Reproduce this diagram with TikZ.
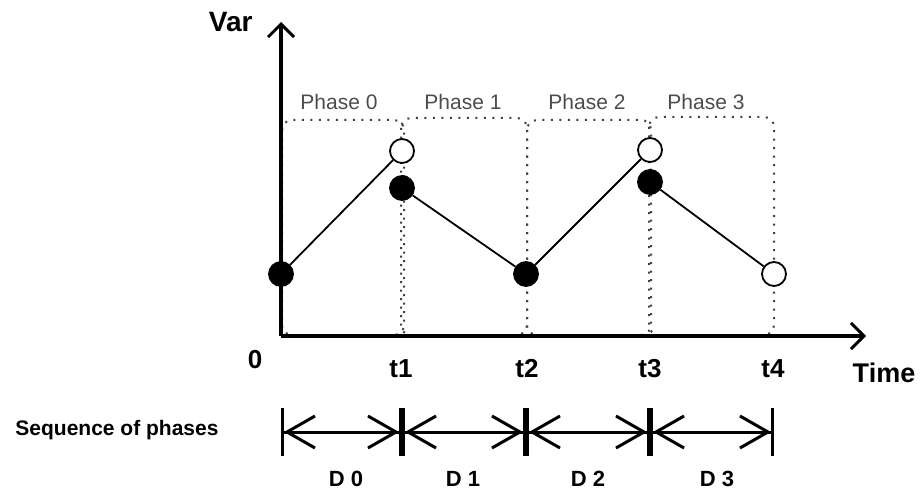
\documentclass[tikz,border=0pt]{standalone}
\usepackage{fontspec}
\setmainfont{Liberation Sans}
\usetikzlibrary{arrows.meta, positioning}

\begin{document}
\begin{tikzpicture}[x=1pt,y=1pt]
	\tikzstyle{axis}=[line width=3.4pt,-{Straight Barb[length=13pt,width=26pt,line width=3pt]}]
	\tikzstyle{hollow}=[circle,draw,line width=1.8pt,fill=white,minimum size=24pt,inner sep=0pt]
	\tikzstyle{filled}=[hollow,fill=black]
	\tikzstyle{phase}=[draw=black!75,line width=2pt,dash pattern=on 2pt off 6.5pt,rounded corners=10pt]
	\tikzstyle{big}=[font=\fontsize{26}{30}\selectfont\bfseries,anchor=base]
	\tikzstyle{small}=[font=\fontsize{21}{25}\selectfont,text=black!70,anchor=base]
	\tikzstyle{span}=[line width=3pt,{Bar[width=48pt,sep=0pt]Straight Barb[length=28pt,width=32pt,line width=3pt]}-{Straight Barb[length=28pt,width=32pt,line width=3pt]Bar[width=48pt,sep=0pt]}]

	\useasboundingbox (0,-492) rectangle (923,0);

	% axes and the instants on the time axis
	\coordinate (o) at (281,-336);
	\coordinate (top) at (281,-22);
	\coordinate (end) at (866,-336);
	\coordinate (t1) at (402,-336);
	\coordinate (t2) at (526,-336);
	\coordinate (t3) at (650,-336);
	\coordinate (t4) at (774,-336);

	% phases (dotted boxes)
	\draw[phase] (282,-120) rectangle (404,-335);
	\draw[phase] (401,-118) rectangle (527,-335);
	\draw[phase] (527,-120) rectangle (651,-335);
	\draw[phase] (649,-117) rectangle (774,-335);

	\node[small] (ph0) at (339,-110) {Phase 0};
	\node[small] (ph1) at (463,-110) {Phase 1};
	\node[small] (ph2) at (587,-110) {Phase 2};
	\node[small] (ph3) at (706,-110) {Phase 3};

	\draw[axis] (o) -- (top);
	\draw[axis] (o) -- (end);

	\node[big,anchor=base east,font=\fontsize{28}{32}\selectfont\bfseries] (var) at (256,-32) {Var};
	\node[big,font=\fontsize{27}{32}\selectfont\bfseries] (time) at (884,-382) {Time};
	\node[big] (l0) at (255,-368) {0};
	\node[big] (l1) at (401,-377) {t1};
	\node[big] (l2) at (527,-377) {t2};
	\node[big] (l3) at (650,-377) {t3};
	\node[big] (l4) at (773,-377) {t4};

	% the variable
	\node[filled] (p0) at (281,-274) {};
	\node[hollow] (p1o) at (402,-151) {};
	\node[filled] (p1) at (402,-188) {};
	\node[filled] (p2) at (526,-274) {};
	\node[hollow] (p3o) at (650,-150) {};
	\node[filled] (p3) at (650,-182) {};
	\node[hollow] (p4) at (774,-274) {};

	\draw[line width=1.8pt] (p0) -- (p1o);
	\draw[line width=1.8pt] (p1) -- (p2) -- (p3o);
	\draw[line width=1.8pt] (p3) -- (p4);

	% sequence of phases
	\coordinate (s0) at (281,-432);
	\coordinate (s1) at (402,-432);
	\coordinate (s2) at (526,-432);
	\coordinate (s3) at (650,-432);
	\coordinate (s4) at (774,-432);

	\node[anchor=base,font=\fontsize{21}{25}\selectfont\bfseries] (seq) at (117,-435) {Sequence of phases};

	\draw[span] (s0) -- (s1);
	\draw[span] (s1) -- (s2);
	\draw[span] (s2) -- (s3);
	\draw[span] (s3) -- (s4);

	\node[big,font=\fontsize{22}{26}\selectfont\bfseries] (d0) at (346,-486) {D 0};
	\node[big,font=\fontsize{22}{26}\selectfont\bfseries] (d1) at (463,-486) {D 1};
	\node[big,font=\fontsize{22}{26}\selectfont\bfseries] (d2) at (588,-486) {D 2};
	\node[big,font=\fontsize{22}{26}\selectfont\bfseries] (d3) at (717,-486) {D 3};
\end{tikzpicture}
\end{document}
